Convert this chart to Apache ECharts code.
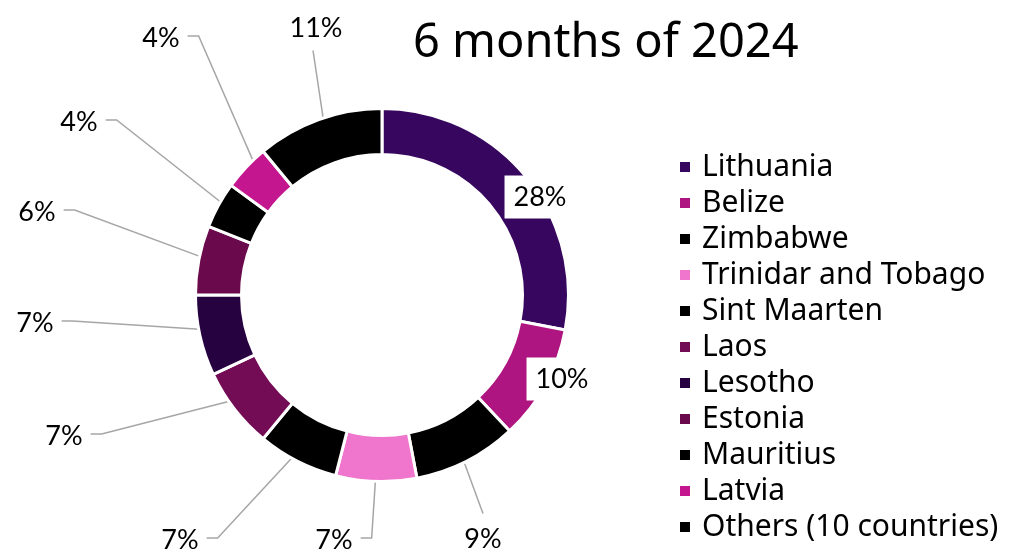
<!DOCTYPE html>
<html>
<head>
<meta charset="utf-8">
<script src="https://cdn.jsdelivr.net/npm/echarts@6/dist/echarts.min.js"></script>
<style>
  html, body { margin: 0; padding: 0; background: #fff; }
  #chart { width: 1012px; height: 552px; }
</style>
</head>
<body>
<div id="chart"></div>
<script>
const countries = ['Lithuania', 'Belize', 'Zimbabwe', 'Trinidar and Tobago', 'Sint Maarten', 'Laos',
  'Lesotho', 'Estonia', 'Mauritius', 'Latvia', 'Others (10 countries)'];
const shares = [28, 10, 9, 7, 7, 7, 7, 6, 4, 4, 11];
const sliceColors = ['#37065f', '#ae1580', '#000000', '#f075cc', '#000000', '#730c55',
  '#260240', '#6a0a4c', '#000000', '#c3168f', '#000000'];
// label centres as they were dragged in the original (px)
const labelSpots = [[540, 197], [562, 379], [483, 539], [334, 540], [180, 540], [64, 436],
  [35, 323], [37, 212], [79, 122], [161, 38], [316, 28]];
// these two sit on the ring with a white box and no leader line
const boxedLabels = [0, 1];

const cx = 382, cy = 295, rOut = 186.5, rIn = 140.5;
const rMid = (rOut + rIn) / 2;

const chart = echarts.init(document.getElementById('chart'));

const pieData = countries.map((name, i) => {
  const item = { name, value: shares[i] };
  if (boxedLabels.indexOf(i) >= 0) {
    item.label = { backgroundColor: '#fff', padding: [8, 9] };
    item.labelLine = { show: false };
  }
  return item;
});

chart.setOption({
  animation: false,
  color: sliceColors,
  title: {
    text: '6 months of 2024',
    left: 413,
    top: 20,
    padding: 0,
    textStyle: { fontFamily: 'Noto Sans', fontSize: 47, fontWeight: 'normal', color: '#000' }
  },
  legend: {
    orient: 'vertical',
    left: 678,
    top: 152,
    padding: 0,
    itemWidth: 12,
    itemHeight: 12,
    itemGap: 6,
    icon: 'rect',
    selectedMode: false,
    data: countries,
    textStyle: { fontFamily: 'Noto Sans', fontSize: 30, lineHeight: 30, color: '#000', padding: [0, 0, 0, 6] }
  },
  series: [
    {
      type: 'pie',
      center: [cx, cy],
      radius: [rIn, rOut],
      startAngle: 90,
      clockwise: true,
      avoidLabelOverlap: false,
      emphasis: { disabled: true },
      itemStyle: { borderColor: '#fff', borderWidth: 3 },
      label: {
        show: true,
        position: 'outside',
        formatter: p => Math.round(p.percent) + '%',
        fontFamily: 'Lato',
        fontSize: 27,
        color: '#000'
      },
      labelLine: {
        show: true,
        lineStyle: { color: '#a6a6a6', width: 1.5 }
      },
      labelLayout: function (p) {
        const i = p.dataIndex;
        const x = labelSpots[i][0], y = labelSpots[i][1];
        const out = { x: x, y: y, align: 'center', verticalAlign: 'middle' };
        const pts = p.labelLinePoints;
        if (pts && boxedLabels.indexOf(i) < 0) {
          // start the leader in the middle of the ring, like Excel does
          const dx = pts[0][0] - cx, dy = pts[0][1] - cy;
          const len = Math.sqrt(dx * dx + dy * dy);
          const start = [cx + dx / len * rMid, cy + dy / len * rMid];
          const w = p.labelRect.width, h = p.labelRect.height;
          if (x < start[0] - 30) {
            const ly = y - 2;
            const end = [x + w / 2 + 8, ly];
            out.labelLinePoints = [start, [end[0] + 11, ly], end];
          } else if (y < start[1]) {
            const ey = y + h / 2 + 9;
            out.labelLinePoints = [start, [x - 3, ey], [x - 3, ey]];
          } else {
            const ey = y - h / 2 - 12;
            out.labelLinePoints = [start, [x, ey], [x, ey]];
          }
        }
        return out;
      },
      data: pieData
    }
  ]
});
</script>
</body>
</html>
